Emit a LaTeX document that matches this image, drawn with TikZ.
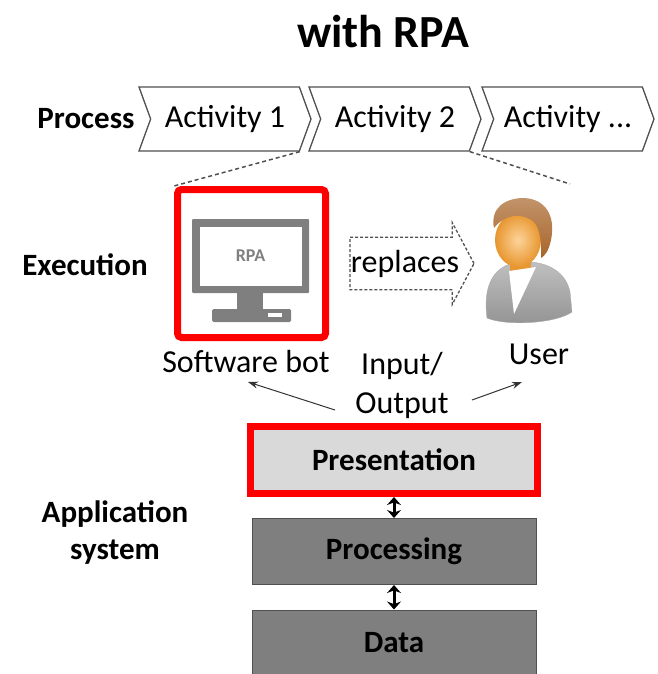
\documentclass[tikz,border=0pt]{standalone}
\usepackage{fontspec}
\setmainfont{Carlito}
\usepackage{xcolor}
\usetikzlibrary{shapes.symbols, shapes.arrows, arrows.meta, positioning, calc}

\definecolor{botred}{HTML}{FF0000}
\definecolor{screengray}{HTML}{7F7F7F}
\definecolor{layerlight}{HTML}{D9D9D9}
\definecolor{layerdark}{HTML}{7F7F7F}
\definecolor{edgegray}{HTML}{505050}
\definecolor{facelight}{HTML}{FCD49A}
\definecolor{faceorange}{HTML}{E8962F}
\definecolor{hairbrown}{HTML}{A8652A}

\tikzstyle{heading} = [font=\fontsize{46}{50}\selectfont\bfseries]
\tikzstyle{rowlabel} = [font=\fontsize{31}{37}\selectfont\bfseries, align=center]
\tikzstyle{caption} = [font=\fontsize{32}{39}\selectfont, align=center]
\tikzstyle{activity} = [signal, signal to=east, signal from=west, signal pointer angle=140, draw=edgegray, line width=1.3pt, fill=white, minimum width=172pt, minimum height=64pt, inner sep=0pt, font=\fontsize{32}{39}\selectfont]
\tikzstyle{redframe} = [rectangle, rounded corners=4pt, draw=botred, line width=7pt, inner sep=0pt]
\tikzstyle{swaparrow} = [single arrow, draw=edgegray, dash pattern=on 3pt off 2pt, line width=1.3pt, single arrow head extend=14.5pt, single arrow tip angle=124, minimum height=124pt, inner xsep=0pt, inner ysep=12pt, font=\fontsize{32}{39}\selectfont]
\tikzstyle{layer} = [rectangle, minimum width=284pt, minimum height=66pt, draw=edgegray, line width=1pt, fill=layerdark, font=\fontsize{31}{37}\selectfont\bfseries]
\tikzstyle{zoomline} = [draw=edgegray, line width=1.5pt, dash pattern=on 4pt off 3pt]
\tikzstyle{ioarrow} = [draw=black!80, line width=1pt, -{Stealth[length=10pt,width=7pt]}]
\tikzstyle{arrow} = [line width=3pt, {Stealth[length=8pt,width=14pt]}-{Stealth[length=8pt,width=14pt]}]

\begin{document}
\begin{tikzpicture}[x=1pt, y=-1pt, node distance=91.5pt]
\useasboundingbox (0,0) rectangle (657,674);

\node (title) [heading] at (383,32) {with RPA};

% process chain
\node (proclabel) [rowlabel] at (86,119) {Process};
\node (act1) [activity] at (225,119) {Activity 1};
\node (act2) [activity, right of=act1, node distance=170pt] {Activity 2};
\node (act3) [activity, right of=act2, node distance=173pt] {Activity ...};

% execution
\node (execlabel) [rowlabel] at (85,265) {Execution};
\node (bot) [redframe, minimum width=148pt, minimum height=148pt] at (251.5,263.5) {};
\fill[screengray, rounded corners=1pt] (192,219) rectangle (309,293);
\fill[white] (200,227) rectangle (302,286);
\fill[screengray] (237,292) rectangle (263,310);
\fill[screengray, rounded corners=1.5pt] (212,309) rectangle (291,322);
\fill[white] (268,313) rectangle (282,317);
\node (rpa) [font=\fontsize{18}{20}\selectfont\bfseries, text=screengray] at (250.5,256) {RPA};

\node (repl) [swaparrow] at (405,263.5) {replaces};

% user icon
\shade[top color=gray!50, bottom color=gray!85, draw=gray!65]
  (487,318) .. controls (484,295) and (488,275) .. (505,266) -- (512,263)
  -- (530,262) .. controls (548,263) and (566,272) .. (570,292) -- (572,312)
  .. controls (555,324) and (505,326) .. (487,318) -- cycle;
\fill[faceorange] (510,255) rectangle (531,272);
\fill[white] (509,271) -- (536,267) -- (514,314) -- cycle;
\shade[inner color=facelight, outer color=faceorange] (518,240) ellipse [x radius=23, y radius=27];
\shade[top color=hairbrown!70!white, bottom color=hairbrown]
  (494,228) .. controls (490,208) and (505,198) .. (524,198)
  .. controls (545,199) and (556,215) .. (551,240)
  .. controls (549,250) and (545,256) .. (541,258)
  .. controls (542,245) and (540,228) .. (534,222)
  .. controls (522,212) and (505,214) .. (494,228) -- cycle;

\node (botlabel) [caption] at (246,362) {Software bot};
\node (userlabel) [caption] at (539,354) {User};
\node (io) [caption] at (402,385) {Input/\\Output};

\coordinate (userzoom) at (570,184);
\coordinate (iotailL) at (335,410);
\coordinate (iotailR) at (472,400);
\coordinate (bottip) at (248,382);
\coordinate (usertip) at (522,382);

\draw [zoomline] (act1.south east) -- (bot.north west);
\draw [zoomline] (act2.south east) -- (userzoom);
\draw [ioarrow] (iotailL) -- (bottip);
\draw [ioarrow] (iotailR) -- (usertip);

% application system layers
\node (applabel) [rowlabel] at (115,533) {Application\\system};
\node (pres) [layer, fill=layerlight, draw=botred, line width=7pt, minimum width=287pt, minimum height=67pt] at (394,460) {Presentation};
\node (proc) [layer, below of=pres] {Processing};
\node (data) [layer, below of=proc] {Data};

\draw [arrow] (pres) -- (proc);
\draw [arrow] (proc) -- (data);

\end{tikzpicture}
\end{document}
